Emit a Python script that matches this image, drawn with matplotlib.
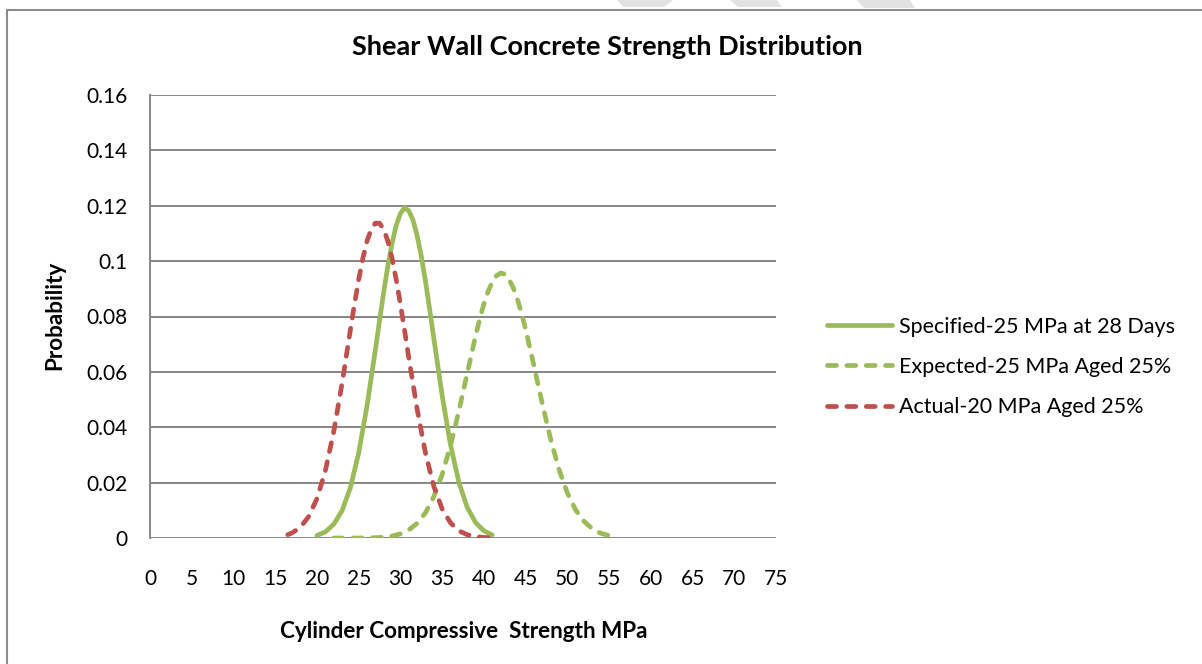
import matplotlib
matplotlib.use("Agg")
import matplotlib.pyplot as plt
from matplotlib.patches import Rectangle, Polygon

plt.rcParams['font.family'] = ['Lato', 'DejaVu Sans']

# strength (MPa) and probability
spec_x = [20, 21, 22, 23, 24, 25, 26, 27, 27.5, 28, 28.5, 29, 29.5, 30, 30.5, 31, 31.5, 32, 32.5,
          33, 33.5, 34, 35, 36, 37, 38, 39, 40, 41]
spec_y = [0.0009, 0.0022, 0.0049, 0.0098, 0.0181, 0.0307, 0.0477, 0.0679, 0.0785, 0.0888, 0.0983,
          0.1065, 0.1129, 0.1172, 0.1193, 0.1182, 0.1149, 0.1093, 0.1018, 0.0928, 0.0827, 0.0722,
          0.0515, 0.0337, 0.0202, 0.0111, 0.0056, 0.0026, 0.0011]

exp_x = [22, 23, 24, 25, 26, 27, 28, 29, 30, 31, 32, 33, 34, 35, 36, 37, 38, 39, 39.5, 40, 40.5,
         41, 41.5, 42, 42.5, 43, 43.5, 44, 44.5, 45, 46, 47, 48, 49, 50, 51, 52, 53, 54, 55]
exp_y = [0.0000, 0.0000, 0.0000, 0.0000, 0.0001, 0.0001, 0.0003, 0.0007, 0.0015, 0.0029, 0.0053,
         0.0091, 0.0149, 0.0229, 0.0333, 0.0458, 0.0594, 0.0729, 0.0790, 0.0845, 0.0890,
         0.0925, 0.0947, 0.0957, 0.0953, 0.0935, 0.0905, 0.0864, 0.0813, 0.0754, 0.0622,
         0.0485, 0.0357, 0.0248, 0.0163, 0.0101, 0.0060, 0.0033, 0.0017, 0.0009]

act_x = [16.5, 17, 18, 19, 20, 21, 22, 23, 24, 24.5, 25, 25.5, 26, 26.5, 27, 27.5, 28, 28.5, 29,
         29.5, 30, 30.5, 31, 32, 33, 34, 35, 36, 37, 38, 39, 40, 41, 41.7]
act_y = [0.0012, 0.0018, 0.0038, 0.0077, 0.0142, 0.0242, 0.0382, 0.0557, 0.0750, 0.0845, 0.0933,
         0.1010, 0.1072, 0.1115, 0.1137, 0.1137, 0.1115, 0.1072, 0.1010, 0.0933, 0.0845, 0.0750,
         0.0652, 0.0466, 0.0307, 0.0187, 0.0105, 0.0055, 0.0026, 0.0012, 0.0005, 0.0002,
         0.0001, 0.0000]

labels = ["Specified-25 MPa at 28 Days", "Expected-25 MPa Aged 25%", "Actual-20 MPa Aged 25%"]
x_ticks = list(range(0, 80, 5))
y_ticks = [0, 0.02, 0.04, 0.06, 0.08, 0.1, 0.12, 0.14, 0.16]
y_tick_labels = ["0", "0.02", "0.04", "0.06", "0.08", "0.1", "0.12", "0.14", "0.16"]

green = "#9BBB59"
red = "#C0504D"
grid_col = "#868686"

fig = plt.figure(figsize=(12.02, 6.64), dpi=100)

# outer chart frame (cut off at right and bottom)
fig.patches.append(Rectangle((7 / 1202, -0.05), 1.2, 1 - 10 / 664 + 0.05, transform=fig.transFigure,
                             fill=False, edgecolor="#8c8c8c", linewidth=1.5))

# faint watermark fragments at the top edge
for pts in [[(617, 0), (673, 0), (664, 7), (623, 7)],
            [(730, 0), (777, 0), (782, 7), (738, 7)],
            [(857, 0), (910, 0), (915, 8), (864, 8)]]:
    fig.patches.append(Polygon([(px / 1202, 1 - py / 664) for px, py in pts], closed=True,
                               transform=fig.transFigure, facecolor="#e2e2e2", edgecolor="none"))

ax = fig.add_axes([150 / 1202, 1 - 538 / 664, 626 / 1202, 443 / 664])

dash = (1.9, 2.2)
ax.plot(spec_x, spec_y, color=green, lw=3.4, solid_capstyle="round", solid_joinstyle="round",
        label=labels[0])
ax.plot(exp_x, exp_y, color=green, lw=3.4, dashes=dash, dash_capstyle="round",
        dash_joinstyle="round", label=labels[1])
ax.plot(act_x, act_y, color=red, lw=3.4, dashes=dash, dash_capstyle="round",
        dash_joinstyle="round", label=labels[2])

ax.set_xlim(0, 75)
ax.set_ylim(0, 0.16)
ax.set_xticks(x_ticks)
ax.set_yticks(y_ticks)
ax.set_yticklabels(y_tick_labels)
ax.tick_params(length=0, labelsize=15)
ax.tick_params(axis="x", pad=22)
ax.tick_params(axis="y", pad=16)
ax.yaxis.grid(True, color=grid_col, lw=1.4)
ax.set_axisbelow(True)
for s in ["top", "right", "bottom"]:
    ax.spines[s].set_visible(False)
ax.spines["left"].set_color(grid_col)
ax.spines["left"].set_linewidth(1.4)

fig.text(607 / 1202, 1 - 47 / 664, "Shear Wall Concrete Strength Distribution",
         ha="center", va="center", fontsize=19.5, fontweight="bold")
fig.text(464 / 1202, 1 - 631 / 664, "Cylinder Compressive  Strength MPa",
         ha="center", va="center", fontsize=16.2, fontweight="bold")
fig.text(55 / 1202, 1 - 315 / 664, "Probability", rotation=90,
         ha="center", va="center", fontsize=16.2, fontweight="bold")

ax.legend(loc="center left", bbox_to_anchor=(808 / 1202, 1 - 367 / 664),
          bbox_transform=fig.transFigure, frameon=False, fontsize=15.5,
          handlelength=3.0, handletextpad=0.35, labelspacing=0.95)

fig.savefig("out.png", dpi=100)
